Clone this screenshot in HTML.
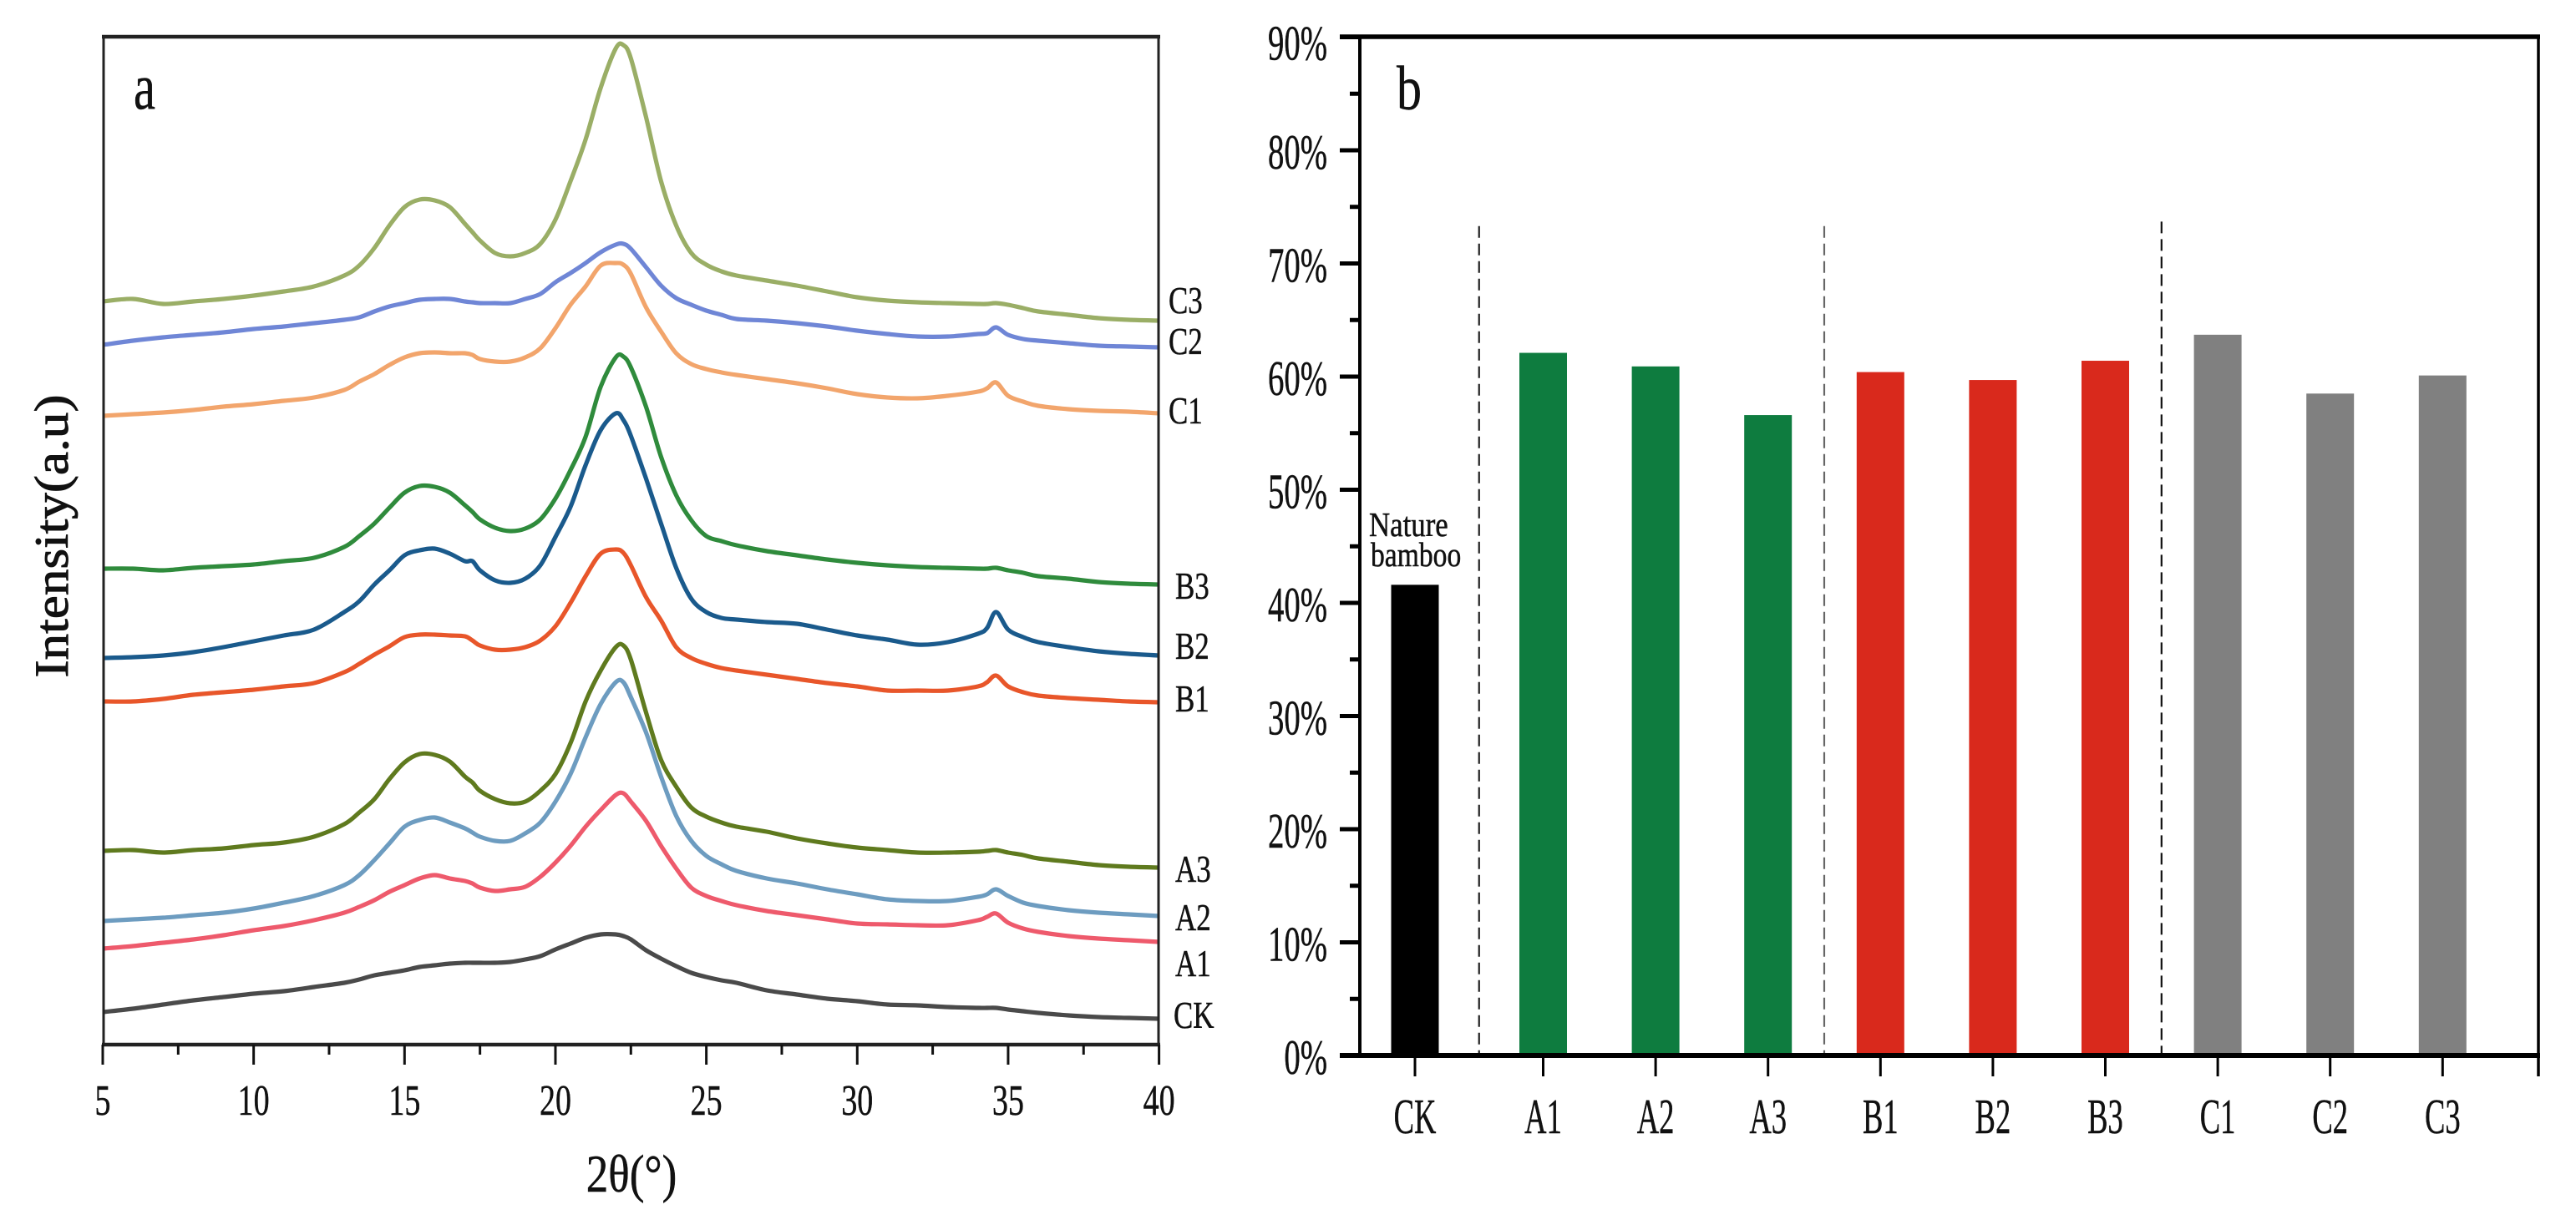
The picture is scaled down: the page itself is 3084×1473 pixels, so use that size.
<!DOCTYPE html>
<html lang="en">
<head>
<meta charset="utf-8">
<title>XRD patterns and crystallinity of bamboo samples</title>
<style>
html,body{margin:0;padding:0;background:#fff;}
svg{display:block;}
text{font-family:"Liberation Serif",serif;fill:#111;stroke:#111;stroke-width:0.5;}
</style>
</head>
<body>
<svg id="figure" xmlns="http://www.w3.org/2000/svg" width="3084" height="1473" viewBox="0 0 3084 1473">
  <rect x="0" y="0" width="3084" height="1473" fill="#fff"/>
  <g id="panelA">
    <g id="seriesA"></g>
    <rect x="124" y="44" width="1263" height="1207" fill="none" stroke="#222" stroke-width="3"/>
    <line x1="122" y1="44" x2="1389" y2="44" stroke="#222" stroke-width="4.5"/>
    <line x1="122" y1="1251" x2="1389" y2="1251" stroke="#222" stroke-width="4.5"/>
    <g id="ticksA"></g>
    <g id="seriesLabelsA"></g>
    <text transform="translate(160,130) scale(0.75,1)" font-size="78">a</text>
    <text transform="translate(756,1427) scale(0.9,1.08)" font-size="59" text-anchor="middle">2θ(°)</text>
    <text transform="translate(81,642) rotate(-90) scale(1.11,1)" font-size="57" text-anchor="middle" style="stroke-width:0.9">Intensity(a.u)</text>
  </g>
  <g id="panelB">
    <g id="barsB"></g>
    <g id="separatorsB"></g>
    <line x1="1628" y1="44" x2="1628" y2="1264" stroke="#000" stroke-width="4"/>
    <line x1="3039" y1="44" x2="3039" y2="1289" stroke="#000" stroke-width="3.5"/>
    <line x1="1604" y1="44" x2="3041" y2="44" stroke="#000" stroke-width="5.5"/>
    <line x1="1604" y1="1264" x2="3041" y2="1264" stroke="#000" stroke-width="6"/>
    <g id="ticksB"></g>
    <text transform="translate(1672,131) scale(0.8,1)" font-size="75">b</text>
    <text transform="translate(1639,642) scale(0.85,1)" font-size="41">Nature</text>
    <text transform="translate(1641,678) scale(0.82,1)" font-size="41">bamboo</text>
  </g>
</svg>
<script>
var NS = 'http://www.w3.org/2000/svg';

/* ---------- panel a: XRD data (2-theta, intensity in a.u.) ---------- */
var twoTheta = [5,6,7,8,9,10,11,12,13,13.5,14,14.5,15,15.5,16,16.5,17,17.25,17.5,18,18.5,19,19.5,20,20.5,21,21.5,22,22.25,22.5,23,23.5,24,24.5,25,25.5,26,27,28,29,30,31,32,33,34,34.3,34.6,35,35.5,36,37,38,39,40];
var seriesC3 = [890,893,887,890,893,897,902,908,921,933,954,981,1003,1012,1011,1003,983,973,963,948,944,948,959,988,1034,1084,1146,1193,1197,1181,1111,1034,981,948,934,926,921,915,909,902,895,891,889,888,887,887,888,886,882,878,874,870,868,867];
var seriesC2 = [838,843,847,850,853,857,860,864,868,871,878,884,888,892,893,893,890,889,888,888,888,893,899,913,924,936,949,958,959,953,931,909,894,886,879,874,869,867,864,860,855,851,848,848,851,852,859,850,845,843,840,837,836,835];
var seriesC1 = [753,755,757,760,764,767,771,775,784,794,803,814,823,828,829,828,828,826,821,818,818,823,834,858,886,908,933,936,934,923,883,854,828,815,809,805,802,797,792,786,779,775,774,777,782,786,793,777,770,765,761,759,758,756];
var seriesB3 = [570,570,568,571,573,575,579,583,596,609,624,643,661,669,668,661,646,638,629,619,615,618,629,654,688,728,788,823,824,811,764,704,658,628,609,603,598,591,586,581,577,574,572,571,570,570,571,568,565,561,558,554,552,551];
var seriesB2 = [463,464,466,470,476,483,490,497,518,531,551,568,586,592,594,588,579,579,568,556,553,558,574,608,644,694,736,756,748,729,678,624,571,534,518,511,509,506,504,497,490,485,479,482,492,499,518,497,488,482,476,471,468,466];
var seriesB1 = [411,411,414,419,422,425,429,433,446,456,467,477,488,491,491,490,489,484,478,473,473,476,484,501,529,561,588,593,589,574,536,508,476,463,456,451,448,443,438,433,429,424,424,424,429,434,442,429,422,418,415,413,411,410];
var seriesA3 = [232,233,230,233,235,239,242,249,264,278,294,318,338,348,347,339,321,314,304,294,289,291,304,324,361,411,448,476,478,461,398,341,309,284,273,266,261,255,247,241,236,233,230,230,231,232,233,230,227,223,219,215,213,212];
var seriesA2 = [148,150,152,155,158,163,170,178,191,203,221,241,261,269,272,266,259,254,249,244,244,253,266,291,324,368,408,434,434,416,374,321,274,244,226,216,208,199,193,186,180,174,172,172,177,180,186,178,170,166,161,158,156,154];
var seriesA1 = [115,118,122,126,131,137,142,149,158,165,173,183,191,199,203,199,196,193,188,184,186,189,201,218,238,261,281,299,301,291,268,238,211,188,178,172,167,160,155,150,145,144,143,143,149,153,157,146,139,135,130,127,125,123];
var seriesCK = [39,43,48,53,57,61,64,69,74,78,83,86,89,93,95,97,98,98,98,98,99,102,106,114,121,128,132,132,130,126,113,103,94,86,81,77,74,65,60,55,52,48,47,45,44,44,44,42,40,38,35,33,32,31];
var seriesNames = ['CK','A1','A2','A3','B1','B2','B3','C1','C2','C3'];
var seriesColors = ['#4a4a4a','#ee5a6c','#6d9cc0','#5f7a1e','#e8562a','#1a5a8c','#2f8b3c','#f2a56c','#6f86d6','#9aae66'];
var seriesLabelValues = [20,82,137,195,399,462,534,744,827,876];
var xTicksA = [5,10,15,20,25,30,35,40];
var xMinorTicksA = [7.5,12.5,17.5,22.5,27.5,32.5,37.5];

/* ---------- panel b: crystallinity data ---------- */
var barCategories = ['CK','A1','A2','A3','B1','B2','B3','C1','C2','C3'];
var barValues = [41.6,62.1,60.9,56.6,60.4,59.7,61.4,63.7,58.5,60.1];
var barColors = ['#000000','#0e7c3f','#0e7c3f','#0e7c3f','#d9291c','#d9291c','#d9291c','#808080','#808080','#808080'];
var yTicksB = [0,10,20,30,40,50,60,70,80,90];
var yMinorTicksB = [5,15,25,35,45,55,65,75,85];
var separatorAfter = [0,3,6];
var separatorTop = [73.3,73.3,73.7];
var separatorColors = ['#222','#666','#111'];

/* ---------- axis functions ---------- */
function xA(t){ return 123 + (t - 5) * (1387.6 - 123) / 35; }
function yA(v){ return 1251 - v * (1207 / 1207); }
function yB(v){ return 1264 - v * (1219.5 / 90); }
function xB(i){ return i === 0 ? 1694 : 1847.5 + (i - 1) * 134.6; }

function svgEl(tag, parent){
  var el = document.createElementNS(NS, tag);
  parent.appendChild(el);
  return el;
}
function setAll(el, props){
  for (var k in props) el.setAttribute(k, props[k]);
  return el;
}
function smoothPath(xs, ys){
  var pts = xs.map(function(x, i){ return [xA(x), yA(ys[i])]; });
  var d = 'M' + pts[0][0].toFixed(1) + ' ' + pts[0][1].toFixed(1);
  for (var i = 0; i < pts.length - 1; i++){
    var p0 = pts[Math.max(i - 1, 0)], p1 = pts[i], p2 = pts[i + 1], p3 = pts[Math.min(i + 2, pts.length - 1)];
    var c1x = p1[0] + (p2[0] - p0[0]) / 6, c1y = p1[1] + (p2[1] - p0[1]) / 6;
    var c2x = p2[0] - (p3[0] - p1[0]) / 6, c2y = p2[1] - (p3[1] - p1[1]) / 6;
    d += 'C' + c1x.toFixed(1) + ' ' + c1y.toFixed(1) + ' ' + c2x.toFixed(1) + ' ' + c2y.toFixed(1) + ' ' + p2[0].toFixed(1) + ' ' + p2[1].toFixed(1);
  }
  return d;
}

/* ---------- draw panel a ---------- */
var allSeries = [seriesCK, seriesA1, seriesA2, seriesA3, seriesB1, seriesB2, seriesB3, seriesC1, seriesC2, seriesC3];
var gSeries = document.getElementById('seriesA');
var gLabelsA = document.getElementById('seriesLabelsA');
allSeries.forEach(function(vals, i){
  var p = svgEl('path', gSeries);
  setAll(p, {d: smoothPath(twoTheta, vals), fill: 'none', stroke: seriesColors[i], 'stroke-width': 5.2, 'stroke-linejoin': 'round', 'stroke-linecap': 'butt'});
  
  

  var t = svgEl('text', gLabelsA);
  var lx = seriesNames[i].charAt(0) === 'C' && seriesNames[i] !== 'CK' ? 1399 : (seriesNames[i] === 'CK' ? 1405 : 1407);
  setAll(t, {transform: 'translate(' + lx + ',' + yA(seriesLabelValues[i]) + ') scale(0.76,1)', 'font-size': 46});
  t.textContent = seriesNames[i];
  
  
});

var gTicksA = document.getElementById('ticksA');
xTicksA.forEach(function(v){
  var l = svgEl('line', gTicksA);
  setAll(l, {x1: xA(v), x2: xA(v), y1: 1251, y2: 1275, stroke: '#111', 'stroke-width': 3});
  
  

  var t = svgEl('text', gTicksA);
  setAll(t, {transform: 'translate(' + xA(v) + ',1335) scale(0.73,1)', 'font-size': 52, 'text-anchor': 'middle'});
  t.textContent = v;
  
  
});
xMinorTicksA.forEach(function(v){
  var l = svgEl('line', gTicksA);
  setAll(l, {x1: xA(v), x2: xA(v), y1: 1251, y2: 1263, stroke: '#111', 'stroke-width': 3});
  
  
});

/* ---------- draw panel b ---------- */
var gBars = document.getElementById('barsB');
var gTicksB = document.getElementById('ticksB');
barCategories.forEach(function(c, i){
  var r = svgEl('rect', gBars);
  setAll(r, {x: xB(i) - 28.5, y: yB(barValues[i]), width: 57, height: yB(0) - yB(barValues[i]), fill: barColors[i]});
  
  

  var l = svgEl('line', gTicksB);
  setAll(l, {x1: xB(i), x2: xB(i), y1: 1264, y2: 1289, stroke: '#000', 'stroke-width': 3});
  
  

  var t = svgEl('text', gTicksB);
  setAll(t, {transform: 'translate(' + xB(i) + ',1357) scale(0.62,1)', 'font-size': 59, 'text-anchor': 'middle'});
  t.textContent = c;
  
  
});
yTicksB.forEach(function(v){
  var l = svgEl('line', gTicksB);
  setAll(l, {x1: 1604, x2: 1628, y1: yB(v), y2: yB(v), stroke: '#000', 'stroke-width': 5});
  
  

  var t = svgEl('text', gTicksB);
  var dy = v === 90 ? 27 : 22;
  setAll(t, {transform: 'translate(1589,' + (yB(v) + dy) + ') scale(0.657,1)', 'font-size': 59, 'text-anchor': 'end'});
  t.textContent = v + '%';
  
  
});
yMinorTicksB.forEach(function(v){
  var l = svgEl('line', gTicksB);
  setAll(l, {x1: 1616, x2: 1628, y1: yB(v), y2: yB(v), stroke: '#000', 'stroke-width': 5});
  
  
});
var gSep = document.getElementById('separatorsB');
separatorAfter.forEach(function(idx, i){
  var sx = (xB(idx) + xB(idx + 1)) / 2;
  var l = svgEl('line', gSep);
  setAll(l, {x1: sx, x2: sx, y1: yB(separatorTop[i]), y2: yB(0), stroke: separatorColors[i], 'stroke-width': 2.2, 'stroke-dasharray': '14 7'});
  
  
});
</script>
</body>
</html>
